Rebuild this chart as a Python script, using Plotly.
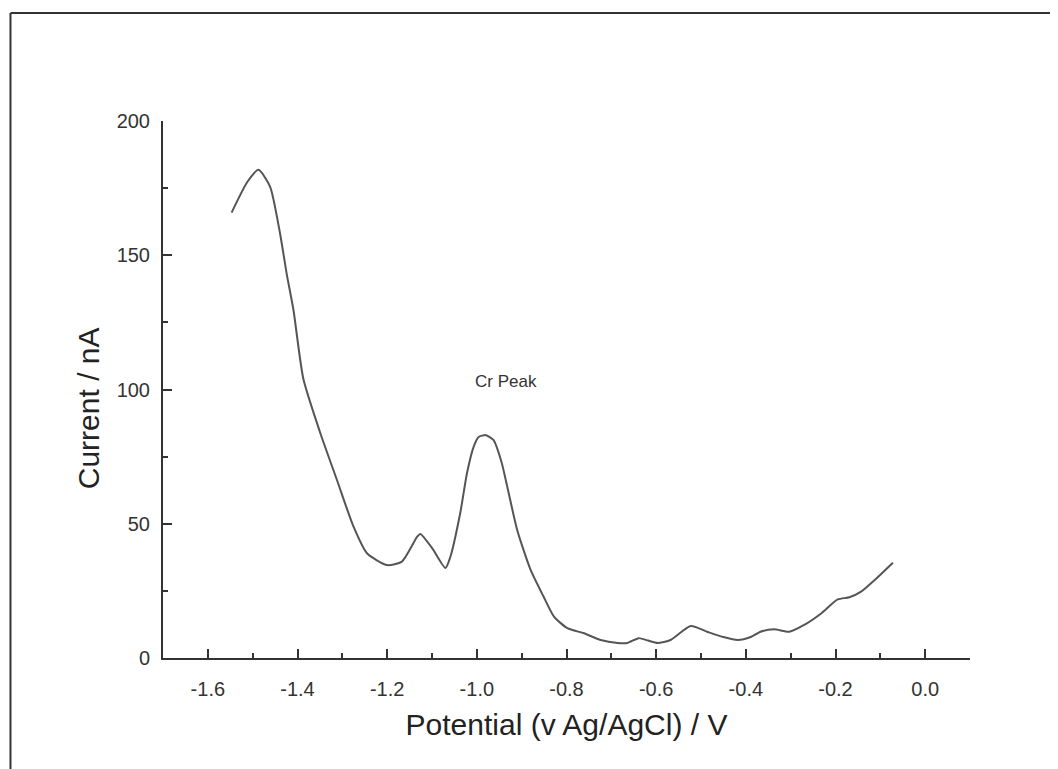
import plotly.graph_objects as go

# Data
potential_V = [-1.547, -1.512, -1.487, -1.461, -1.439, -1.424, -1.409, -1.387, -1.349,
               -1.312, -1.275, -1.245, -1.200, -1.167, -1.133, -1.126, -1.100, -1.070,
               -1.059, -1.037, -1.022, -1.007, -0.996, -0.980, -0.963, -0.945, -0.932,
               -0.910, -0.880, -0.851, -0.828, -0.798, -0.761, -0.724, -0.686, -0.664,
               -0.639, -0.618, -0.597, -0.568, -0.523, -0.485, -0.450, -0.418, -0.389,
               -0.367, -0.337, -0.303, -0.270, -0.232, -0.195, -0.169, -0.143, -0.113,
               -0.072]
current_nA = [165.9, 177.3, 181.8, 175.5, 158.2, 143.0, 129.6, 104.0, 83.7,
              66.3, 48.9, 39.0, 34.6, 35.9, 45.2, 46.2, 41.0, 33.5,
              37.7, 54.0, 68.8, 78.7, 82.3, 83.0, 81.2, 73.0, 63.7,
              47.7, 32.8, 22.8, 15.4, 11.1, 9.2, 6.7, 5.6, 5.6,
              7.4, 6.5, 5.6, 6.7, 11.9, 9.7, 7.8, 6.7, 7.8,
              9.8, 10.7, 9.8, 12.3, 16.6, 21.8, 22.6, 24.7, 29.0,
              35.5]
x_ticks = [-1.6, -1.4, -1.2, -1.0, -0.8, -0.6, -0.4, -0.2, 0.0]
x_tick_labels = ["-1.6", "-1.4", "-1.2", "-1.0", "-0.8", "-0.6", "-0.4", "-0.2", "0.0"]
y_ticks = [0, 50, 100, 150, 200]
annotation_text = "Cr Peak"
annotation_pos = (-0.936, 103)
x_title = "Potential (v Ag/AgCl) / V"
y_title = "Current / nA"

FONT = "Liberation Sans, Arial, sans-serif"
AX = "#333333"

fig = go.Figure()
fig.add_trace(go.Scatter(
    x=potential_V, y=current_nA, mode="lines",
    line=dict(color="#555555", width=2, shape="spline", smoothing=0.6),
    showlegend=False, hoverinfo="skip"))

fig.add_annotation(x=annotation_pos[0], y=annotation_pos[1], text=annotation_text,
                   showarrow=False, font=dict(family=FONT, size=17, color="#333333"))

# y-axis title (sits slightly below the axis centre in the reference)
fig.add_annotation(xref="paper", x=-0.093, yref="y", y=93, text=y_title, textangle=-90,
                   showarrow=False, xanchor="center", yanchor="middle",
                   font=dict(family=FONT, size=30, color="#222222"))

common = dict(showgrid=False, zeroline=False, showline=True, linecolor=AX, linewidth=2,
              ticks="inside", tickcolor=AX, tickwidth=2, ticklen=9,
              tickfont=dict(family=FONT, size=20, color="#333333"))

fig.update_xaxes(range=[-1.7, 0.1], tickvals=x_ticks, ticktext=x_tick_labels,
                 minor=dict(dtick=0.1, tick0=0, ticks="inside", ticklen=5, tickcolor=AX, tickwidth=2),
                 ticklabelstandoff=12,
                 title=dict(text=x_title, font=dict(family=FONT, size=30, color="#222222"), standoff=15),
                 **common)
fig.update_yaxes(range=[0, 200], tickvals=y_ticks,
                 minor=dict(dtick=25, tick0=0, ticks="inside", ticklen=5, tickcolor=AX, tickwidth=2),
                 ticklabelstandoff=7,
                 **common)

# Figure frame (top and left border lines)
fig.add_shape(type="line", xref="paper", yref="paper", x0=-0.189, x1=1.12, y0=1.201, y1=1.201,
              line=dict(color="#333333", width=2))
fig.add_shape(type="line", xref="paper", yref="paper", x0=-0.189, x1=-0.189, y0=1.201, y1=-0.25,
              line=dict(color="#333333", width=2))

# page body has an 8px margin, so the figure is shifted; compensate
fig.update_layout(width=1050, height=761, margin=dict(l=155, r=88, t=113, b=111, autoexpand=False),
                  plot_bgcolor="white", paper_bgcolor="white")

fig.write_html("out.html")
